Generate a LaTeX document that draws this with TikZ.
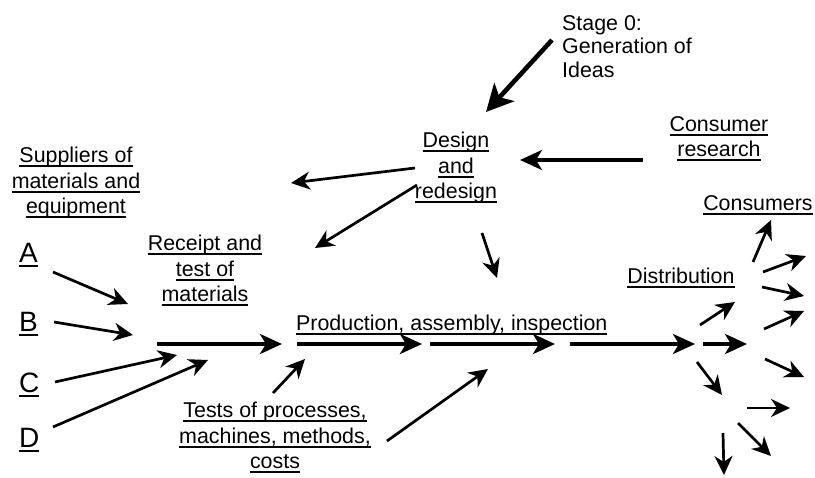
\documentclass[tikz,border=0pt]{standalone}
\usepackage{fontspec}
\setmainfont{Liberation Sans}
\usetikzlibrary{arrows.meta}
\newsavebox\ulbox
\newcommand\ulx[1]{\sbox\ulbox{#1}\rlap{\rule[-4.4pt]{\wd\ulbox}{1.8pt}}\usebox\ulbox}
\tikzset{
  lbl/.style={inner sep=0pt, align=center, font=\fontsize{21.4}{25.5}\selectfont},
  letter/.style={inner sep=0pt, anchor=north west, font=\fontsize{28}{30}\selectfont},
  thinarrow/.style={line width=2.7pt, -{Stealth[length=19pt,width=18pt,inset=6pt]}},
  midarrow/.style={line width=3.2pt, -{Stealth[length=22pt,width=20pt,inset=6pt]}},
  mainarrow/.style={line width=4pt, -{Stealth[length=22pt,width=20pt,inset=6pt]}},
  bigarrow/.style={line width=4.6pt, -{Stealth[length=27pt,width=27pt,inset=7pt]}},
}
\begin{document}
\begin{tikzpicture}[x=1pt,y=-1pt]
\useasboundingbox (0,0) rectangle (815,478);
% text nodes
\node[lbl, anchor=north west, align=left, font=\fontsize{21.4}{23.5}\selectfont] (stage) at (562,15) {Stage 0:\\Generation of\\Ideas};
\node[lbl, anchor=north] (design) at (456,132) {\ulx{Design}\\\ulx{and}\\\ulx{redesign}};
\node[lbl, anchor=north] (cres) at (719,116) {\ulx{Consumer}\\\ulx{research}};
\node[lbl, anchor=north] (cons) at (758,195) {\ulx{Consumers}};
\node[lbl, anchor=north] (dist) at (681,268) {\ulx{Distribution}};
\node[lbl, anchor=north west] (prod) at (296,315) {\ulx{Production, assembly, inspection}};
\node[lbl, anchor=north] (rec) at (205,235) {\ulx{Receipt and}\\\ulx{test of}\\\ulx{materials}};
\node[lbl, anchor=north] (sup) at (76,147) {\ulx{Suppliers of}\\\ulx{materials and}\\\ulx{equipment}};
\node[lbl, anchor=north] (tests) at (275,402) {\ulx{Tests of processes,}\\\ulx{machines, methods,}\\\ulx{costs}};
\node[letter] (A) at (19,243) {\ulx{A}};
\node[letter] (B) at (19,312) {\ulx{B}};
\node[letter] (C) at (19,373) {\ulx{C}};
\node[letter] (D) at (19,428) {\ulx{D}};
% arrow end points
\coordinate (s1) at (552,40);  \coordinate (e1) at (486,112);
\coordinate (s2) at (643,160); \coordinate (e2) at (520,160);
\coordinate (s3) at (415,168); \coordinate (e3) at (291,183);
\coordinate (s4) at (417,185); \coordinate (e4) at (315,248);
\coordinate (s5) at (482,233); \coordinate (e5) at (497,278);
\coordinate (sA) at (53,272);  \coordinate (eA) at (128,304);
\coordinate (sB) at (54,322);  \coordinate (eB) at (133,335);
\coordinate (sC) at (55,382);  \coordinate (eC) at (177,355);
\coordinate (sD) at (53,427);  \coordinate (eD) at (208,360);
\coordinate (m1s) at (157,344); \coordinate (m1e) at (282,344);
\coordinate (m2s) at (297,344); \coordinate (m2e) at (422,344);
\coordinate (m3s) at (430,344); \coordinate (m3e) at (555,344);
\coordinate (m4s) at (570,344); \coordinate (m4e) at (695,344);
\coordinate (m5s) at (703,344); \coordinate (m5e) at (747,344);
\coordinate (t1s) at (273,393); \coordinate (t1e) at (305,359);
\coordinate (t2s) at (387,441); \coordinate (t2e) at (488,369);
\coordinate (d1s) at (700,325); \coordinate (d1e) at (735,302);
\coordinate (d2s) at (697,362); \coordinate (d2e) at (722,395);
\coordinate (c1s) at (753,262); \coordinate (c1e) at (771,220);
\coordinate (c2s) at (763,272); \coordinate (c2e) at (806,256);
\coordinate (c3s) at (762,287); \coordinate (c3e) at (804,296);
\coordinate (c4s) at (764,329); \coordinate (c4e) at (804,311);
\coordinate (c5s) at (765,359); \coordinate (c5e) at (804,377);
\coordinate (c6s) at (747,408); \coordinate (c6e) at (790,408);
\coordinate (c7s) at (738,423); \coordinate (c7e) at (771,456);
\coordinate (c8s) at (723,433); \coordinate (c8e) at (724,475);
% arrows
\draw[bigarrow] (s1) -- (e1);
\draw[midarrow] (s2) -- (e2);
\draw[thinarrow] (s3) -- (e3);
\draw[thinarrow] (s4) -- (e4);
\draw[thinarrow] (s5) -- (e5);
\draw[thinarrow] (sA) -- (eA);
\draw[thinarrow] (sB) -- (eB);
\draw[thinarrow] (sC) -- (eC);
\draw[thinarrow] (sD) -- (eD);
\draw[mainarrow] (m1s) -- (m1e);
\draw[mainarrow] (m2s) -- (m2e);
\draw[mainarrow] (m3s) -- (m3e);
\draw[mainarrow] (m4s) -- (m4e);
\draw[mainarrow] (m5s) -- (m5e);
\draw[thinarrow] (t1s) -- (t1e);
\draw[thinarrow] (t2s) -- (t2e);
\draw[thinarrow] (d1s) -- (d1e);
\draw[thinarrow] (d2s) -- (d2e);
\draw[thinarrow] (c1s) -- (c1e);
\draw[thinarrow] (c2s) -- (c2e);
\draw[thinarrow] (c3s) -- (c3e);
\draw[thinarrow] (c4s) -- (c4e);
\draw[thinarrow] (c5s) -- (c5e);
\draw[thinarrow] (c6s) -- (c6e);
\draw[thinarrow] (c7s) -- (c7e);
\draw[thinarrow] (c8s) -- (c8e);
\end{tikzpicture}
\end{document}
